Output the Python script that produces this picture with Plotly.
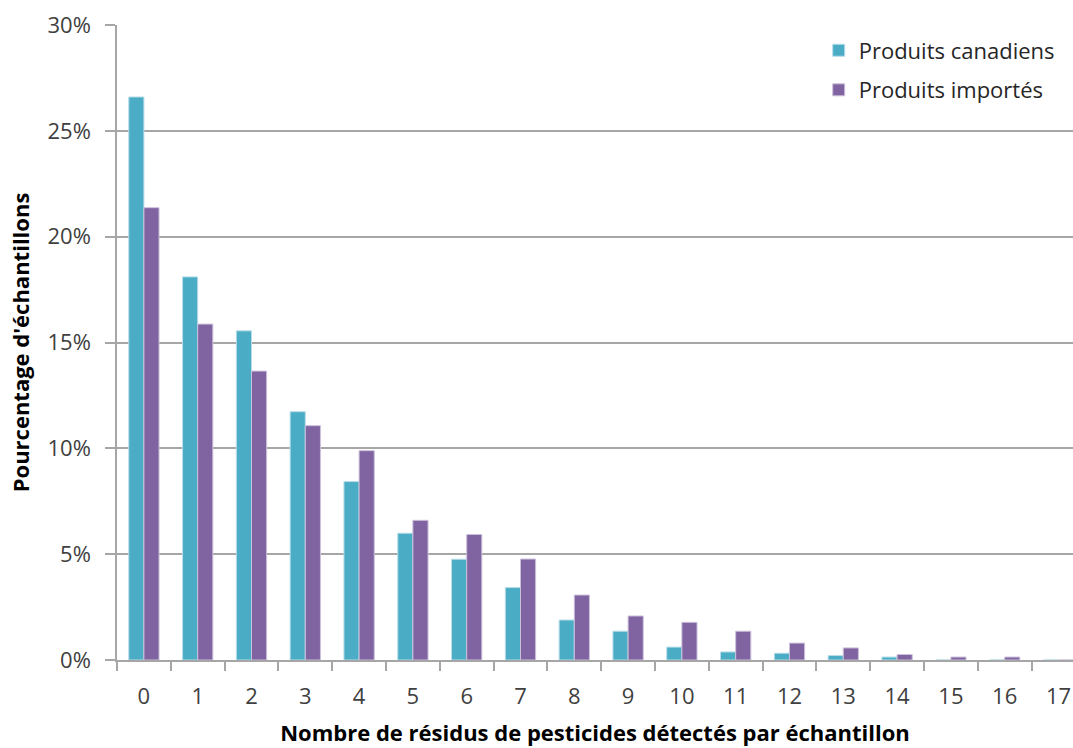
import plotly.graph_objects as go

categories = [str(i) for i in range(18)]
canadiens = [26.6, 18.1, 15.55, 11.73, 8.43, 5.99, 4.76, 3.42, 1.89, 1.36, 0.61, 0.38, 0.32, 0.21, 0.14, 0.0, 0.0, 0.0]
importes = [21.37, 15.87, 13.65, 11.07, 9.89, 6.6, 5.93, 4.77, 3.07, 2.08, 1.78, 1.36, 0.8, 0.57, 0.26, 0.14, 0.14, 0.0]
y_ticks = [0, 5, 10, 15, 20, 25, 30]
y_ticktext = ["0%", "5%", "10%", "15%", "20%", "25%", "30%"]

FONT = "Open Sans"
fig = go.Figure()
fig.add_trace(go.Bar(x=categories, y=canadiens, name="Produits canadiens", legendgroup="a",
                     marker=dict(color="#4BACC6", line=dict(color="#B7DDE8", width=1))))
fig.add_trace(go.Bar(x=categories, y=importes, name="Produits importés", legendgroup="b",
                     marker=dict(color="#8064A2", line=dict(color="#CCC1DA", width=1))))

fig.update_layout(
    width=1073, height=748,
    margin=dict(l=117, r=0, t=25, b=88),
    paper_bgcolor="white", plot_bgcolor="white",
    barmode="group", bargap=0.437, bargroupgap=0,
    font=dict(family=FONT, size=22, color="#404040"),
    legend=dict(x=0.734, y=0.993, xanchor="left", yanchor="top", tracegroupgap=8,
                font=dict(family=FONT, size=22, color="#262626"), bgcolor="rgba(0,0,0,0)"),
    xaxis=dict(type="category", range=[-0.5, 17.27], tickson="boundaries", ticks="outside",
               ticklen=9, tickcolor="#A6A6A6", tickwidth=1.5, showline=True, linecolor="#A6A6A6",
               linewidth=1.5, showgrid=False, ticklabelstandoff=16,
               title=dict(text="<b>Nombre de résidus de pesticides détectés par échantillon</b>",
                          font=dict(family=FONT, size=22, color="#000000"), standoff=16),
               tickfont=dict(family=FONT, size=22, color="#404040")),
    yaxis=dict(range=[0, 30], tickvals=y_ticks, ticktext=y_ticktext, ticks="outside", ticklen=10,
               tickcolor="#A6A6A6", tickwidth=1.5, showline=True, linecolor="#A6A6A6", linewidth=1.5,
               showgrid=True, gridcolor="#A6A6A6", gridwidth=1.5, zeroline=False, ticklabelstandoff=10,
               title=dict(text="<b>Pourcentage d'échantillons</b>",
                          font=dict(family=FONT, size=22, color="#000000"), standoff=12),
               tickfont=dict(family=FONT, size=22, color="#404040")),
)
fig.write_html("out.html", config={"displayModeBar": False},
               post_script="document.body.style.margin='0';document.body.style.overflow='hidden';")
